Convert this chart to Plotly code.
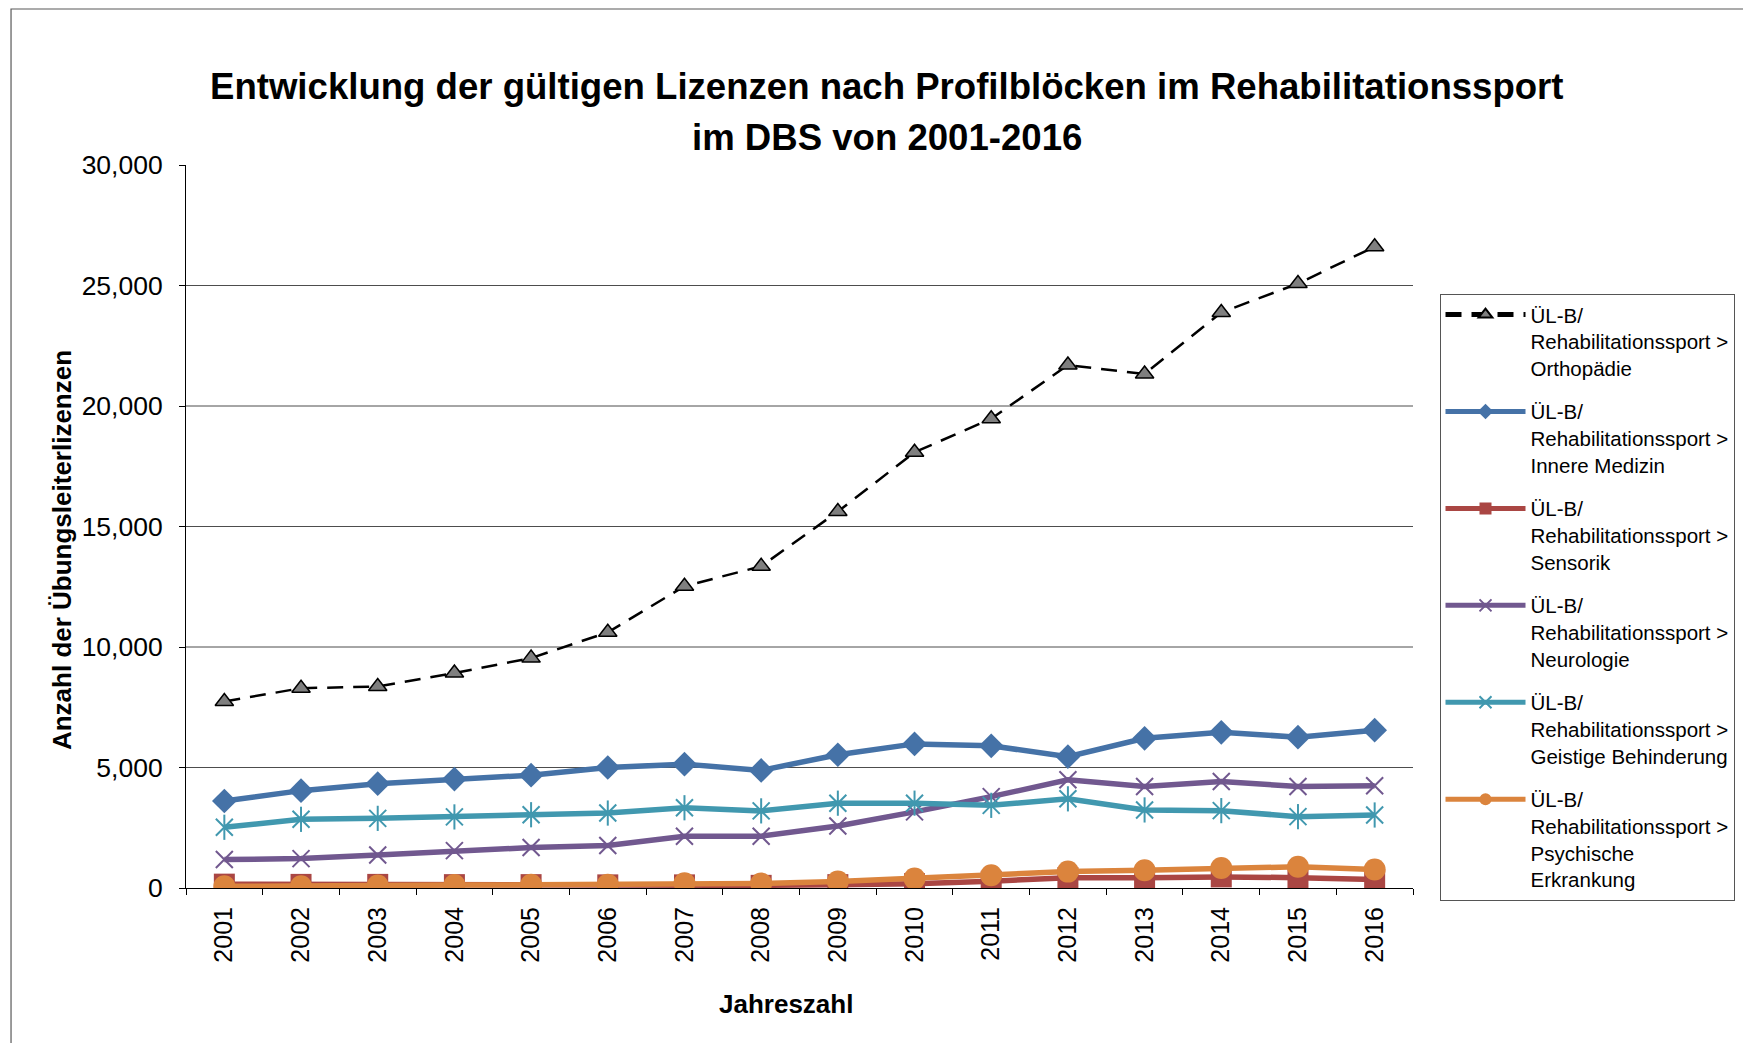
import plotly.graph_objects as go

years = ["2001", "2002", "2003", "2004", "2005", "2006", "2007", "2008",
         "2009", "2010", "2011", "2012", "2013", "2014", "2015", "2016"]

orthopaedie = [7740, 8290, 8360, 8920, 9540, 10610, 12520, 13350,
               15620, 18080, 19470, 21700, 21330, 23880, 25080, 26610]
innere_medizin = [3610, 4040, 4330, 4520, 4680, 5000, 5140, 4880,
                  5530, 5980, 5900, 5450, 6210, 6460, 6260, 6550]
sensorik = [160, 150, 150, 140, 140, 130, 130, 110,
            140, 180, 280, 430, 430, 460, 430, 350]
neurologie = [1180, 1220, 1370, 1550, 1680, 1760, 2150, 2150,
              2570, 3160, 3790, 4490, 4210, 4420, 4210, 4240]
geistige = [2520, 2850, 2890, 2950, 3040, 3110, 3330, 3200,
            3520, 3520, 3430, 3700, 3240, 3210, 2960, 3030]
psychische = [70, 70, 100, 120, 130, 140, 200, 190,
              270, 390, 530, 680, 740, 830, 880, 770]

y_ticks = [0, 5000, 10000, 15000, 20000, 25000, 30000]

names = [
    "ÜL-B/<br>Rehabilitationssport &gt;<br>Orthopädie",
    "ÜL-B/<br>Rehabilitationssport &gt;<br>Innere Medizin",
    "ÜL-B/<br>Rehabilitationssport &gt;<br>Sensorik",
    "ÜL-B/<br>Rehabilitationssport &gt;<br>Neurologie",
    "ÜL-B/<br>Rehabilitationssport &gt;<br>Geistige Behinderung",
    "ÜL-B/<br>Rehabilitationssport &gt;<br>Psychische<br>Erkrankung",
]

title_lines = [
    "Entwicklung der gültigen Lizenzen nach Profilblöcken im Rehabilitationssport",
    "im DBS von 2001-2016",
]

FONT = "Liberation Sans, Arial, sans-serif"
BLUE = "#4572A7"
RED = "#AA4643"
PURPLE = "#71588F"
TEAL = "#4198AF"
ORANGE = "#DB843D"

fig = go.Figure()

fig.add_trace(go.Scatter(
    x=years, y=orthopaedie, name=names[0], legendgroup="g1", mode="lines+markers",
    line=dict(color="black", width=2.5, dash="16px,10px"),
    marker=dict(symbol="triangle-up", size=16, color="#7f7f7f",
                line=dict(color="black", width=1.5)),
))
fig.add_trace(go.Scatter(
    x=years, y=innere_medizin, name=names[1], legendgroup="g2", mode="lines+markers",
    line=dict(color=BLUE, width=5.5),
    marker=dict(symbol="diamond", size=19, color=BLUE, line=dict(width=0)),
))
fig.add_trace(go.Scatter(
    x=years, y=sensorik, name=names[2], legendgroup="g3", mode="lines+markers",
    line=dict(color=RED, width=5.5),
    marker=dict(symbol="square", size=21, color=RED, line=dict(width=0)),
))
fig.add_trace(go.Scatter(
    x=years, y=neurologie, name=names[3], legendgroup="g4", mode="lines+markers",
    line=dict(color=PURPLE, width=5.5),
    marker=dict(symbol="x-thin-open", size=17, color=PURPLE,
                line=dict(color=PURPLE, width=2)),
))
fig.add_trace(go.Scatter(
    x=years, y=geistige, name=names[4], legendgroup="g5", mode="lines+markers",
    line=dict(color=TEAL, width=5.5),
    marker=dict(symbol="x-thin-open", size=17, color=TEAL,
                line=dict(color=TEAL, width=2)),
))
fig.add_trace(go.Scatter(
    x=years, y=geistige, legendgroup="g5", showlegend=False, mode="markers",
    marker=dict(symbol="line-ns-open", size=18, color=TEAL,
                line=dict(color=TEAL, width=2)),
    hoverinfo="skip",
))
fig.add_trace(go.Scatter(
    x=years, y=psychische, name=names[5], legendgroup="g6", mode="lines+markers",
    line=dict(color=ORANGE, width=5.5),
    marker=dict(symbol="circle", size=22, color=ORANGE, line=dict(width=0)),
))

# horizontal gridlines (no line at the top tick)
for v in y_ticks:
    if 0 < v < max(y_ticks):
        fig.add_shape(type="line", xref="paper", yref="y", x0=0, x1=1, y0=v, y1=v,
                      line=dict(color="#4d4d4d", width=1), layer="below")

# outer chart border
fig.add_shape(type="rect", xref="paper", yref="paper",
              x0=-0.1426, x1=1.5, y0=-0.5, y1=1.2158,
              line=dict(color="#595959", width=1.2), fillcolor="rgba(0,0,0,0)")

fig.update_layout(
    width=1751, height=1043,
    margin=dict(l=178, r=346, t=157, b=163),
    paper_bgcolor="white", plot_bgcolor="white",
    font=dict(family=FONT, color="black"),
    showlegend=True,
    legend=dict(
        x=1.0216, y=0.822, xanchor="left", yanchor="top",
        bordercolor="#555555", borderwidth=1, bgcolor="white",
        font=dict(family=FONT, size=20.5, color="black"),
        tracegroupgap=14, valign="top", itemsizing="constant", itemwidth=80,
        traceorder="grouped",
    ),
    xaxis=dict(
        type="category", range=[-0.5, len(years) - 0.5], showgrid=False,
        showline=True, linecolor="black", linewidth=1,
        ticks="outside", ticklen=6, tickcolor="black", tickson="boundaries",
        tickangle=-90, tickfont=dict(family=FONT, size=25, color="black"),
        ticklabelstandoff=8, zeroline=False,
    ),
    yaxis=dict(
        range=[0, 30000], tickvals=y_ticks, tickformat=",d", showgrid=False,
        showline=True, linecolor="black", linewidth=1, ticks="outside", ticklen=6,
        tickcolor="black", tickfont=dict(family=FONT, size=26.5, color="black"),
        ticklabelstandoff=11, zeroline=False,
    ),
    annotations=[
        dict(text="<b>" + title_lines[0] + "</b>",
             xref="paper", yref="paper", x=0.5715, y=1.1086, xanchor="center", yanchor="middle",
             showarrow=False, font=dict(family=FONT, size=36.6, color="black")),
        dict(text="<b>" + title_lines[1] + "</b>",
             xref="paper", yref="paper", x=0.5715, y=1.0382, xanchor="center", yanchor="middle",
             showarrow=False, font=dict(family=FONT, size=36.6, color="black")),
        dict(text="<b>Jahreszahl</b>", xref="paper", yref="paper", x=0.489, y=-0.1604,
             xanchor="center", yanchor="middle", showarrow=False,
             font=dict(family=FONT, size=26, color="black")),
        dict(text="<b>Anzahl der Übungsleiterlizenzen</b>", xref="paper", yref="paper",
             x=-0.101, y=0.4675, xanchor="center", yanchor="middle", textangle=-90,
             showarrow=False, font=dict(family=FONT, size=26, color="black")),
    ],
)

fig.write_html("out.html")
